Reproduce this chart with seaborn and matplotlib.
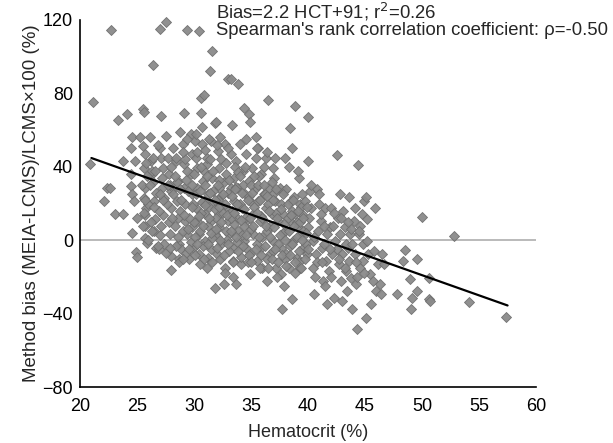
import numpy as np
import pandas as pd
import seaborn as sns
import matplotlib.pyplot as plt

# -----------------------------
# Data
# -----------------------------
hct = [
    20.9, 21.1, 22.1, 22.4, 22.6, 22.7, 23.1, 23.3, 23.8, 23.8, 24.1, 24.5, 24.5, 24.6, 24.5, 24.6,
    24.6, 24.7, 24.8, 24.9, 25.0, 25.0,
    25.3, 25.5, 25.6, 25.5, 25.7, 25.6, 25.7, 25.6, 25.8, 25.7, 25.7, 25.7, 25.9, 26.1, 26.2, 26.3,
    26.4, 26.4, 26.5, 26.6, 26.5, 26.7, 26.9, 27.0, 27.1, 27.0, 27.1, 27.3, 27.2, 27.4, 27.3, 27.5,
    27.5, 27.7, 27.8, 28.0, 28.0, 27.9, 28.0, 28.0, 28.2, 28.4, 28.6, 28.5, 28.6, 28.7, 28.7, 28.8,
    28.9, 29.0, 29.1, 29.1, 29.1, 29.2, 29.2, 29.4, 29.4, 29.6, 29.7, 29.8, 29.7, 29.8, 29.8, 29.9,
    30.1, 30.2, 30.3, 30.3, 30.2, 30.3, 30.4, 30.4, 30.4, 30.5, 30.6, 30.6, 30.7, 30.7, 30.8, 30.9,
    30.9, 31.0, 31.0, 31.1, 31.1, 31.2, 31.2, 31.4, 31.5, 31.5, 31.6, 31.6, 31.6, 31.8, 31.8, 31.9,
    31.8, 32.0, 32.1, 32.2, 32.2, 32.2, 32.2, 32.3, 32.3, 32.4, 32.6, 32.7, 32.7, 32.8, 32.9, 33.0,
    33.0, 33.1, 33.2, 33.2, 33.3, 33.2, 33.4, 33.5, 33.5, 33.5, 33.7, 33.7, 33.8, 33.9, 33.9, 33.9,
    34.0, 34.1, 34.2, 34.3, 34.4, 34.4, 34.5, 34.6, 34.6, 34.8, 34.8, 34.9, 34.9, 34.9, 34.9,
    35.1, 35.2, 35.2, 35.4, 35.4, 35.5, 35.6, 35.6, 35.8, 35.9, 35.9, 36.0, 36.1, 36.3, 36.3, 36.4,
    36.4, 36.5, 36.6, 36.7, 36.8, 36.9, 36.9, 37.0, 37.1, 37.2, 37.4, 37.5, 37.6, 37.6, 37.7, 37.8,
    37.9, 38.0, 38.0, 38.1, 38.3, 38.4, 38.4, 38.5, 38.6, 38.6, 38.7, 38.8, 38.9, 38.9, 39.0, 39.1,
    39.2, 39.3, 39.3, 39.4, 39.5, 39.6, 39.7, 39.9, 40.0, 40.0, 40.0,
    40.2, 40.3, 40.4, 40.4, 40.5, 40.7, 40.8, 40.9, 41.1, 41.1, 41.2, 41.3, 41.5, 41.6, 41.7, 41.7,
    41.9, 42.0, 42.1, 42.3, 42.4, 42.5, 42.6, 42.7, 42.8, 42.8, 42.9, 43.0, 43.1, 43.2, 43.3, 43.4,
    43.5, 43.6, 43.6, 43.7, 43.8, 43.9, 44.0, 44.1, 44.1, 44.2, 44.3, 44.4, 44.5, 44.6, 44.7, 44.8,
    44.8, 44.9,
    45.1, 45.1, 45.2, 45.2, 45.3, 45.4, 45.5, 45.7, 45.8, 45.9, 46.0, 46.1, 46.3, 46.4, 46.5, 46.7,
    47.8, 48.3, 48.5, 48.9, 49.0, 49.1, 49.6, 49.6, 50.0, 50.6, 50.6, 50.7, 52.8, 54.1, 57.4,
    # dense core, 30-35
    30.0, 30.2, 30.5, 30.6, 30.8, 31.0, 31.2, 31.3, 31.5, 31.7, 31.9, 32.0, 32.1, 32.3, 32.5, 32.6,
    32.8, 33.0, 33.1, 33.3, 33.5, 33.6, 33.8, 34.0, 34.2, 34.3, 34.5, 34.7, 34.8, 35.0, 30.3, 30.9,
    31.4, 32.4, 33.9, 31.1, 32.7, 33.4, 34.6, 30.1, 31.8, 32.9, 33.7, 34.4, 31.6, 32.2, 30.7, 33.2,
    34.1, 31.0,
    # dense core, 25-30
    25.4, 25.8, 26.0, 26.2, 26.4, 26.7, 26.9, 27.0, 27.2, 27.4, 27.6, 27.8, 28.0, 28.2, 28.4, 28.5,
    28.8, 29.0, 29.2, 29.3, 29.5, 29.6, 29.8, 29.9, 26.0, 26.8, 27.5, 28.3, 28.9, 29.4, 25.6, 26.3,
    27.9, 28.7, 29.7,
    # dense core, 35-40
    35.0, 35.3, 35.5, 35.7, 35.9, 36.0, 36.2, 36.4, 36.5, 36.7, 36.9, 37.0, 37.2, 37.4, 37.6, 37.8,
    38.0, 38.2, 38.4, 38.6, 38.8, 39.0, 39.2, 39.4, 39.6, 39.8, 35.4, 36.1, 36.8, 37.3, 38.1, 38.9,
    39.5, 35.8, 37.9,
    # 40-45
    40.1, 40.5, 40.8, 41.0, 41.4, 41.8, 42.2, 42.5, 42.9, 43.3, 43.8, 44.3, 44.6, 41.5, 43.0,
    # second pass over the crowded middle
    27.1, 27.3, 27.7, 27.9, 28.1, 28.3, 28.6, 28.8, 29.0, 29.1, 29.3, 29.5, 29.6, 29.8, 30.0, 30.1,
    30.3, 30.4, 30.5, 30.6, 30.8, 30.9, 31.0, 31.1, 31.2, 31.3, 31.4, 31.5, 31.6, 31.7, 31.8, 31.9,
    32.0, 32.1, 32.2, 32.3, 32.4, 32.5, 32.6, 32.7, 32.8, 32.9, 33.0, 33.1, 33.2, 33.3, 33.4, 33.5,
    33.6, 33.7, 33.8, 33.9, 34.0, 34.1, 34.2, 34.3, 34.4, 34.5, 34.6, 34.7, 34.8, 34.9, 35.0, 35.1,
    35.2, 35.3, 35.4, 35.5, 35.6, 35.7, 35.8, 35.9, 36.0, 36.1, 36.2, 36.3, 36.4, 36.5, 36.6, 36.7,
    36.8, 36.9, 37.0, 37.1, 37.2, 37.3, 37.4, 37.5, 37.6, 37.7, 37.8, 37.9, 38.0, 38.1, 38.2, 38.3,
    38.4, 38.5, 38.6, 38.7, 38.8, 38.9, 39.0, 39.1, 39.2, 39.3, 39.4, 39.5, 39.6, 39.7, 39.8, 39.9,
    40.0,
    26.1, 26.3, 26.5, 26.6, 26.8, 27.0, 25.9, 25.7, 25.5, 28.4, 29.0, 29.4, 30.2, 31.3, 32.0, 33.0,
    34.6, 35.5, 36.4, 37.1, 38.3, 39.1, 40.3, 41.0, 41.4, 41.9, 42.3, 42.7, 43.2, 43.5, 43.9, 44.2,
    44.5, 44.9, 42.0, 40.6, 41.2,
]

bias = [
    41.8, 75.5, 21.5, 28.7, 28.7, 114.5, 14.5, 65.6, 14.5, 43.0, 68.7, 36.0, 50.0, 56.0, 29.5, 25.0,
    4.0, 21.5, 43.0, -6.4, -9.0, 12.4,
    56.0, 71.5, 70.0, 51.5, 47.0, 39.6, 28.7, 23.0, 17.8, 14.0, 8.0, 1.5, -1.3, 56.0, 43.0, 36.0,
    95.5, 31.5, 21.5, 11.5, 5.0, -4.0, -5.0, 115.0, 67.5, 50.5, 45.0, 39.6, 28.7, 23.0, 14.0, 119.0,
    57.0, 45.0, 36.0, 27.0, 17.8, 3.3, -16.4, -8.5, 50.5, 43.0, 32.4, 21.5, 12.4, -2.0, -10.4, 58.7,
    -5.0, 52.4, 69.5, 41.5, 28.7, 19.6, 10.5, 114.5, 3.3, -10.4, 58.0, 47.0, 36.0, 25.0, 7.0, -4.0,
    54.0, 45.0, 39.6, 28.7, 17.8, 10.5, 3.3, 114.0, -7.6, -13.0, 77.5, 69.5, 61.5, 52.4, 32.4, 79.0,
    21.5, 14.2, -0.4, 41.5, 45.0, 25.0, -9.5, 92.0, 54.0, 10.5, 34.0, 103.0, 19.6, 64.0, 3.3, 64.5,
    -26.0, -7.6, 48.7, 39.6, 28.7, 14.2, 7.0, 56.0, 23.3, -2.0, -24.0, -15.0, 52.4, 36.0, 17.8, 88.0,
    10.5, 3.3, 47.0, 28.7, 63.0, 87.6, -11.3, 34.0, 21.5, -4.0, -24.0, 43.0, 12.4, 5.0, 85.0, 28.7,
    52.4, -13.0, 17.8, 38.0, 72.0, -0.4, 25.0, 47.0, 10.5, 69.0, 32.4, 64.5, -7.6, -18.5, 21.5,
    39.6, 14.2, 3.3, 56.0, 28.7, -11.3, 50.5, 21.5, 10.5, -4.0, 36.0, -15.0, 25.0, 45.0, 17.8, -22.0,
    5.0, 76.5, 28.7, -7.6, 14.2, 39.6, -0.4, 34.0, 21.5, -15.0, 10.5, 28.7, -4.0, -18.5, -37.6, 14.2,
    27.0, 45.0, 5.0, -7.6, -15.0, 10.5, 61.0, 21.5, -32.2, 50.5, -0.4, 23.3, 73.0, 14.2, -9.5, 7.0,
    34.0, 19.6, -15.0, 3.3, 14.2, -4.0, 21.5, -7.6, 67.0, 43.0, 7.0,
    27.0, 17.8, -0.4, -15.0, -29.5, -7.6, 27.8, 5.0, 10.5, 14.2, -4.0, -22.0, 17.8, -11.3, -34.9, 3.3,
    7.0, 17.8, -7.6, -31.3, -0.4, 46.5, 12.4, -13.0, 25.0, 3.3, -22.0, -7.6, 16.0, 7.0, -16.7, -27.6,
    -4.0, 23.3, -11.3, 3.3, -20.4, -37.6, 10.5, 17.8, -7.6, -24.0, -48.5, 41.0, 3.3, -15.0, 14.2, -2.0,
    -11.3, 21.5,
    23.3, -42.2, 11.5, -0.4, -7.6, -18.5, -34.9, -22.0, -5.8, 17.8, -27.6, -13.0, -24.0, -29.5, -7.6, -13.0,
    -29.5, -11.3, -5.5, -21.3, -37.6, -31.3, -10.4, -27.6, 12.7, -20.4, -32.2, -33.0, 2.4, -33.5, -41.8,
    # dense core, 30-35
    10, 25, 5, 15, -3, 30, 8, 18, -5, 27, 12, 2, 22, -10, 15, 32,
    5, 26, -6, 16, 9, 40, -1, 20, 3, 30, 12, -12, 24, 6, 48, 38,
    44, 44, 37, -15, -18, -20, -4, -8, 17, 0, 29, 8, 1, 33, 21, 12,
    -9, 49,
    # dense core, 25-30
    30, 42, 20, 10, 45, 26, 16, 3, 34, -2, 20, 10, 40, 25, -3, 32,
    16, 5, 44, -7, 27, 12, 30, 20, 0, 52, -7, 8, 22, 38, 15, 38,
    30, -12, -1,
    # dense core, 35-40
    30, 18, -2, 35, 13, 2, 25, -10, 20, 8, -6, 26, 15, -2, 20, 4,
    -10, 12, -3, 16, 0, 10, -12, 18, 5, -2, 45, 40, 32, -20, 28, -18,
    25, -15, -25,
    # 40-45
    12, 2, -12, 20, -2, -17, 8, -5, 12, -2, 6, -20, 8, -25, -33,
    # second pass over the crowded middle
    8, 22, 30, -4, 12, 35, 2, 28, -10, 14, 33, 6, -5, 18, 36, 2,
    -2, 13, 27, 40, 8, -10, 19, 35, -2, 12, 26, 4, -12, 38, 22, 6,
    -4, 30, 18, 0, 10, 25, -8, 20, 42, 14, -2, 33, 5, 24, -12, 15,
    28, 2, 20, -6, 35, 11, 26, -3, 17, 40, 3, 22, -8, 12, -12, 26,
    8, 35, -5, 15, 30, 2, 22, -8, 12, 30, -3, 8, 24, -15, 16, 2,
    -10, 22, 7, -5, 28, 12, -12, 3, 17, -8, 25, 9, 0, -14, 20, 5,
    -8, 14, -2, 22, 8, -12, 2, 16, -6, 10, -15, 0, 12, -10, 4, 18,
    -5,
    30, 5, 18, 38, -3, 25, 35, 22, 8, 45, 48, 55, 58, 55, 52, 50,
    55, 50, 48, 45, 40, 38, 30, 25, 8, -5, 15, -10, -15, 10, -2, -12,
    5, -18, -20, -20, -12,
]

# reported regression: Bias = -2.2 * HCT + 91
fit_slope = -2.2
fit_intercept = 91
fit_range = [21.0, 57.5]

x_ticks = [20, 25, 30, 35, 40, 45, 50, 55, 60]
y_ticks = [-80, -40, 0, 40, 80, 120]

df = pd.DataFrame({'hct': hct, 'bias': bias})
fit_df = pd.DataFrame({'hct': fit_range})
fit_df['bias'] = fit_slope * fit_df['hct'] + fit_intercept
zero_df = pd.DataFrame({'hct': [x_ticks[0], x_ticks[-1]], 'bias': [0, 0]})

# -----------------------------
# Plot
# -----------------------------
sns.set_style('white')
plt.rcParams['font.family'] = ['Liberation Sans', 'DejaVu Sans']

fig = plt.figure(figsize=(6.13, 4.43), dpi=100)
ax = fig.add_axes([0.1305, 0.126, 0.744, 0.829])

sns.lineplot(data=zero_df, x='hct', y='bias', color='#b4b4b4', linewidth=1.3, ax=ax, zorder=1)
sns.scatterplot(data=df, x='hct', y='bias', marker='D', s=26, color='#8a8a8a',
                edgecolor='#6e6e6e', linewidth=0.6, alpha=0.95, ax=ax, zorder=2, clip_on=False)
sns.lineplot(data=fit_df, x='hct', y='bias', color='black', linewidth=1.6, ax=ax, zorder=3)

ax.set_xlim(20, 60)
ax.set_ylim(-80, 120)
ax.set_xticks(x_ticks)
ax.set_yticks(y_ticks)
ax.tick_params(axis='both', direction='out', length=3, width=1, labelsize=13,
               colors='black')
ax.tick_params(axis='x', pad=5)
ax.tick_params(axis='y', pad=2)
sns.despine(ax=ax)
for side in ['left', 'bottom']:
    ax.spines[side].set_color('black')
    ax.spines[side].set_linewidth(1.2)

ax.set_xlabel('Hematocrit (%)', fontsize=13, labelpad=6)
ax.set_ylabel('Method bias (MEIA-LCMS)/LCMS\u00d7100 (%)', fontsize=13.5, labelpad=2)

fig.text(0.352, 0.997, 'Bias=2.2 HCT+91; r$^2$=0.26', fontsize=13.3, va='top', ha='left')
fig.text(0.352, 0.950, "Spearman's rank correlation coefficient: \u03c1=-0.50", fontsize=13.3,
         va='top', ha='left')

fig.savefig('out.png', dpi=100)
